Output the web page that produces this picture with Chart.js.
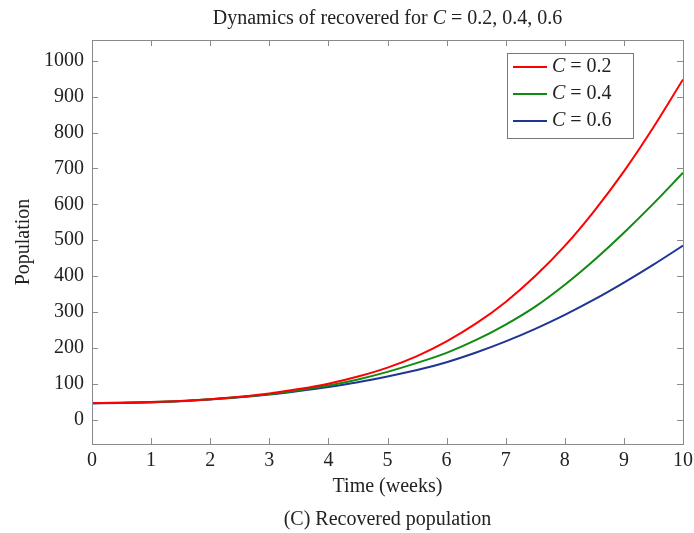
<!DOCTYPE html>
<html>
<head>
<meta charset="utf-8">
<script src="https://cdn.jsdelivr.net/npm/chart.js@4/dist/chart.umd.min.js"></script>
<style>
  html, body { margin: 0; padding: 0; background: #fff; }
  #wrap { width: 694px; height: 533px; }
</style>
</head>
<body>
<div id="wrap"><canvas id="recChart" width="694" height="533"></canvas></div>
<script>
const weeks = [0, 0.5, 1, 1.5, 2, 2.5, 3, 3.5, 4, 4.5, 5, 5.5, 6, 6.5, 7, 7.5, 8, 8.5, 9, 9.5, 10];
const recC02 = [46, 47, 49, 52, 57, 64, 73, 85, 100, 120, 145, 177, 218, 268, 328, 400, 484, 582, 692, 815, 948];
const recC04 = [46, 47, 49, 52, 57, 63, 71, 82, 95, 112, 133, 158, 186, 222, 265, 315, 376, 445, 521, 602, 688];
const recC06 = [45, 46, 48, 51, 56, 62, 70, 80, 91, 104, 120, 138, 160, 187, 218, 253, 292, 335, 382, 432, 485];
const cValues = ["0.2", "0.4", "0.6"];
const xTicks = [0, 1, 2, 3, 4, 5, 6, 7, 8, 9, 10];
const yTicks = [0, 100, 200, 300, 400, 500, 600, 700, 800, 900, 1000];

const colors = ["#ff0000", "#108a10", "#1f3593"];
const FONT = "'Liberation Serif', 'Times New Roman', serif";

const toPts = (ys) => ys.map((y, i) => ({ x: weeks[i], y }));

// frame, inward ticks, title with italic C, legend, caption
const decor = {
  id: "decor",
  afterDraw(chart) {
    const { ctx, chartArea: a, scales } = chart;
    ctx.save();
    ctx.strokeStyle = "#8a8a8a";
    ctx.lineWidth = 1;
    ctx.strokeRect(a.left + 0.5, a.top + 0.5, a.right - a.left, a.bottom - a.top);
    ctx.beginPath();
    xTicks.forEach((v) => {
      const px = Math.round(scales.x.getPixelForValue(v)) + 0.5;
      ctx.moveTo(px, a.bottom); ctx.lineTo(px, a.bottom - 6);
      ctx.moveTo(px, a.top); ctx.lineTo(px, a.top + 6);
    });
    yTicks.forEach((v) => {
      const py = Math.round(scales.y.getPixelForValue(v)) + 0.5;
      ctx.moveTo(a.left, py); ctx.lineTo(a.left + 6, py);
      ctx.moveTo(a.right, py); ctx.lineTo(a.right - 6, py);
    });
    ctx.stroke();

    // mixed-style text helper
    const drawRuns = (runs, x, y, align) => {
      let total = 0;
      runs.forEach((r) => { ctx.font = r.font; total += ctx.measureText(r.text).width; });
      let cx = align === "center" ? x - total / 2 : x;
      ctx.textAlign = "left";
      ctx.textBaseline = "middle";
      runs.forEach((r) => {
        ctx.font = r.font;
        ctx.fillText(r.text, cx, y);
        cx += ctx.measureText(r.text).width;
      });
    };
    const up = "20px " + FONT;
    const it = "italic 20px " + FONT;

    ctx.fillStyle = "#222";
    drawRuns(
      [
        { text: "Dynamics of recovered for ", font: up },
        { text: "C", font: it },
        { text: " = " + cValues.join(", "), font: up },
      ],
      (a.left + a.right) / 2, 19, "center"
    );

    ctx.font = "20px " + FONT;
    ctx.textAlign = "center";
    ctx.textBaseline = "middle";
    ctx.fillText("(C) Recovered population", (a.left + a.right) / 2, 520);

    // legend box
    const bx = a.right - 176, by = a.top + 13, bw = 126, bh = 85;
    ctx.fillStyle = "#fff";
    ctx.fillRect(bx, by, bw, bh);
    ctx.strokeStyle = "#777";
    ctx.lineWidth = 1;
    ctx.strokeRect(bx + 0.5, by + 0.5, bw, bh);
    chart.data.datasets.forEach((ds, i) => {
      const ry = by + 14 + i * 27;
      ctx.strokeStyle = ds.borderColor;
      ctx.lineWidth = 2;
      ctx.beginPath();
      ctx.moveTo(bx + 6, ry); ctx.lineTo(bx + 40, ry);
      ctx.stroke();
      ctx.fillStyle = "#222";
      drawRuns([{ text: "C", font: it }, { text: " = " + cValues[i], font: up }], bx + 45, ry, "left");
    });
    ctx.restore();
  },
};

new Chart(document.getElementById("recChart"), {
  type: "line",
  data: {
    datasets: [recC02, recC04, recC06].map((ys, i) => ({
      label: "C = " + cValues[i],
      data: toPts(ys),
      borderColor: colors[i],
      backgroundColor: colors[i],
      borderWidth: 2,
      pointRadius: 0,
      cubicInterpolationMode: "monotone",
    })),
  },
  options: {
    responsive: false,
    animation: false,
    layout: { padding: { top: 40, right: 11, bottom: 0, left: 0 } },
    plugins: { legend: { display: false }, title: { display: false }, tooltip: { enabled: false } },
    scales: {
      x: {
        type: "linear",
        min: 0,
        max: 10,
        afterBuildTicks: (s) => { s.ticks = xTicks.map((v) => ({ value: v })); },
        afterFit: (s) => { s.height = 89; s.paddingLeft = 0; s.paddingRight = 0; },
        grid: { display: false, drawTicks: false },
        border: { display: false },
        ticks: { color: "#222", padding: 5, maxRotation: 0, font: { family: FONT, size: 20 }, callback: (v) => String(v) },
        title: { display: true, text: "Time (weeks)", color: "#222", padding: { top: 0, bottom: 34 }, font: { family: FONT, size: 20 } },
      },
      y: {
        type: "linear",
        min: -68,
        max: 1058,
        afterBuildTicks: (s) => { s.ticks = yTicks.map((v) => ({ value: v })); },
        afterFit: (s) => { s.width = 92; },
        grid: { display: false, drawTicks: false },
        border: { display: false },
        ticks: { color: "#222", padding: 8, font: { family: FONT, size: 20 }, callback: (v) => String(v) },
        title: { display: true, text: "Population", color: "#222", padding: { top: 12, bottom: 0 }, font: { family: FONT, size: 20 } },
      },
    },
  },
  plugins: [decor],
});
</script>
</body>
</html>
